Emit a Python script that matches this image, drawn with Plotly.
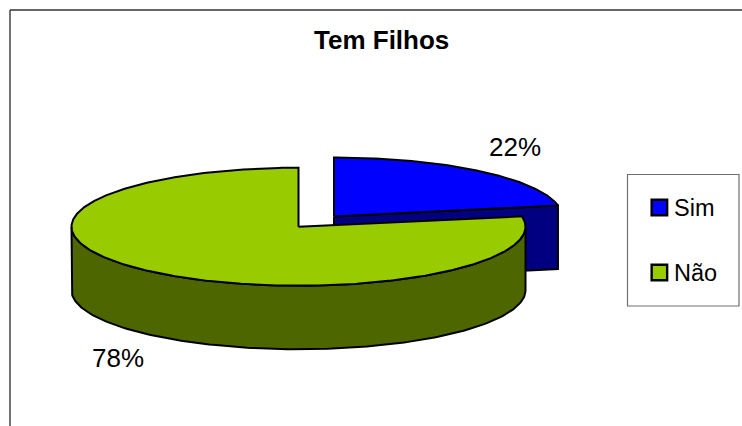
import numpy as np
import plotly.graph_objects as go

categories = ["Sim", "Não"]
values = [22, 78]
chart_title = "Tem Filhos"

top_colors = ["#0000FF", "#99CC00"]
wall_colors = ["#000080", "#4D6600"]

W, H = 742, 426
DEPTH = 63.5
EDGE = dict(color="#000000", width=2)

# Disc geometry on a pixel-like axis
center_sim = (334.0, 216.5, 228.0, 59.0)
center_nao = (298.5, 226.7, 227.0, 59.0)

total = sum(values)
split = 2 * np.pi * values[0] / total  # clockwise from 12 o'clock


def rim(c, a0, a1, drop=0.0, n=160):
    t = np.linspace(a0, a1, n)
    return c[0] + c[2] * np.sin(t), c[1] - c[3] * np.cos(t) + drop


def poly(x, y, color, name):
    return go.Scatter(
        x=list(x), y=list(y), mode="lines", fill="toself", fillcolor=color,
        line=EDGE, showlegend=False, hoverinfo="text", text=name,
    )


fig = go.Figure()

# Sim: cut face
ex, ey = rim(center_sim, split, split, n=1)
fig.add_trace(poly(
    [center_sim[0], ex[0], ex[0], center_sim[0], center_sim[0]],
    [center_sim[1], ey[0], ey[0] + DEPTH, center_sim[1] + DEPTH, center_sim[1]],
    wall_colors[0], categories[0]))

# Sim: top
x, y = rim(center_sim, 0, split)
fig.add_trace(poly(
    np.r_[center_sim[0], x, center_sim[0]], np.r_[center_sim[1], y, center_sim[1]],
    top_colors[0], categories[0]))

# Não: front wall
x1, y1 = rim(center_nao, np.pi / 2, 3 * np.pi / 2)
x2, y2 = rim(center_nao, 3 * np.pi / 2, np.pi / 2, drop=DEPTH)
fig.add_trace(poly(np.r_[x1, x2, x1[0]], np.r_[y1, y2, y1[0]], wall_colors[1], categories[1]))

# Não: top
x, y = rim(center_nao, split, 2 * np.pi, n=400)
fig.add_trace(poly(
    np.r_[center_nao[0], x, center_nao[0]], np.r_[center_nao[1], y, center_nao[1]],
    top_colors[1], categories[1]))

# Legend swatches
legend_y = [207.5, 272.5]
fig.add_trace(go.Scatter(
    x=[659.4, 659.4], y=legend_y, mode="markers",
    marker=dict(symbol="square", size=15.5, color=top_colors, line=dict(color="#000000", width=2.4)),
    showlegend=False, hoverinfo="skip", cliponaxis=False,
))

font = "Liberation Sans"
annotations = [
    dict(x=515, y=147, text=f"{values[0]}%", showarrow=False,
         font=dict(family=font, size=26, color="#000000")),
    dict(x=118, y=358, text=f"{values[1]}%", showarrow=False,
         font=dict(family=font, size=26, color="#000000")),
    dict(x=381.5, y=40, text=f"<b>{chart_title}</b>", showarrow=False,
         font=dict(family=font, size=26, color="#000000")),
]
for label, ly in zip(categories, legend_y):
    annotations.append(dict(
        x=672, y=ly, text=label, showarrow=False, xanchor="left",
        font=dict(family=font, size=23.5, color="#000000"),
    ))

shapes = [
    dict(type="line", x0=10, x1=W, y0=10, y1=10, line=dict(color="#333333", width=1.5), layer="below"),
    dict(type="line", x0=10, x1=10, y0=10, y1=H, line=dict(color="#444444", width=1.5), layer="below"),
    dict(type="rect", x0=627.5, x1=739, y0=174.5, y1=306, line=dict(color="#707070", width=1.2),
         fillcolor="#FFFFFF", layer="below"),
]

fig.update_layout(
    width=W, height=H, margin=dict(l=0, r=0, t=0, b=0),
    paper_bgcolor="#FFFFFF", plot_bgcolor="#FFFFFF", showlegend=False,
    xaxis=dict(range=[0, W], visible=False, fixedrange=True),
    yaxis=dict(range=[H, 0], visible=False, fixedrange=True),
    annotations=annotations, shapes=shapes,
)

fig.write_html(
    "out.html",
    config=dict(displayModeBar=False),
    post_script="document.body.style.margin='0';document.documentElement.style.overflow='hidden';",
)
